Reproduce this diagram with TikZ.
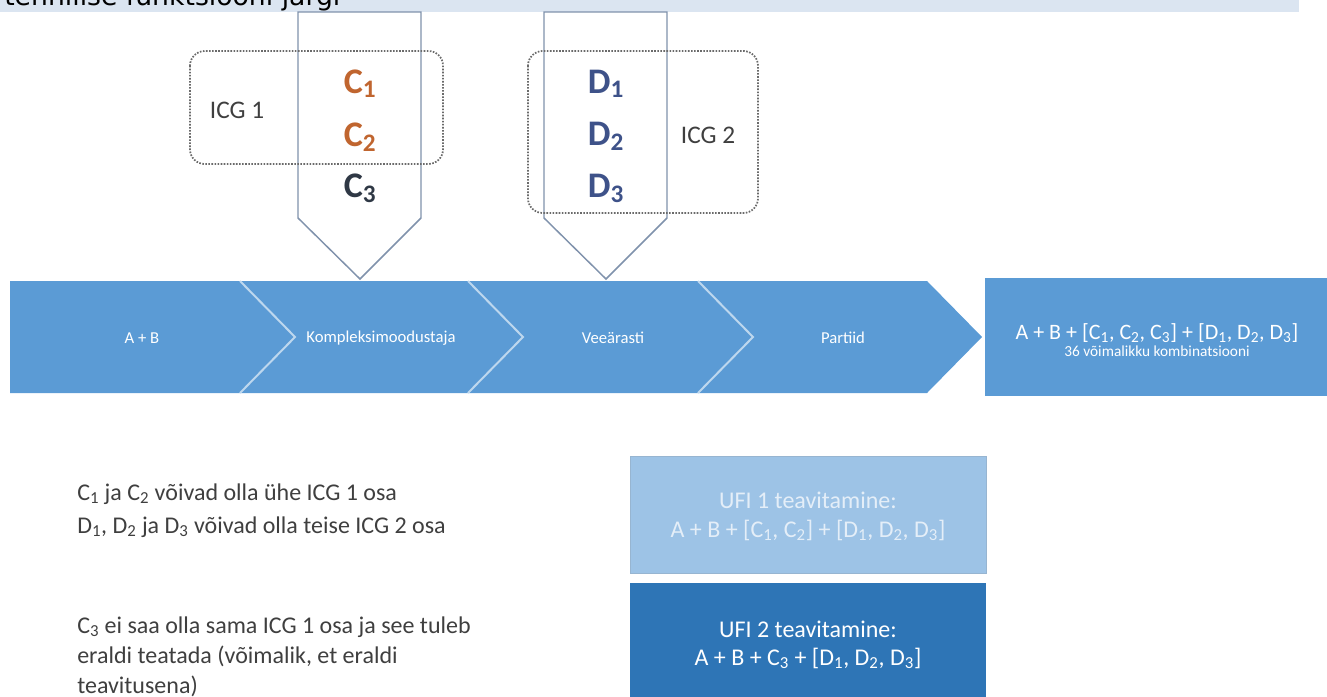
\documentclass[tikz,border=0pt]{standalone}
\usepackage{fontspec}
\setmainfont{Carlito}
\newfontfamily\bannerfont{DejaVu Sans}

\definecolor{bannerbg}{HTML}{DBE5F1}
\definecolor{barblue}{HTML}{5B9BD5}
\definecolor{sepblue}{HTML}{BDD7EE}
\definecolor{ufilight}{HTML}{9DC3E6}
\definecolor{ufidark}{HTML}{2E75B6}
\definecolor{ufilighttext}{HTML}{E4EEF8}
\definecolor{arrowedge}{HTML}{8092AC}
\definecolor{corange}{HTML}{C0652F}
\definecolor{cdark}{HTML}{2F3845}
\definecolor{dblue}{HTML}{3E5289}
\definecolor{labelgray}{HTML}{3F3F3F}
\definecolor{framegray}{HTML}{6A6A6A}

\tikzset{
  droparrow/.style={draw=arrowedge, fill=white, line width=1.1pt, line join=miter},
  icgframe/.style={draw=framegray, line width=1.3pt, dash pattern=on 1.2pt off 1.1pt, rounded corners=11pt},
  bigletter/.style={font=\fontsize{27}{30}\selectfont\bfseries, inner sep=0pt, anchor=base},
  icglabel/.style={font=\fontsize{19}{22}\selectfont, text=labelgray, inner sep=0pt},
  segtext/.style={font=\fontsize{12.5}{15}\selectfont, text=white, inner sep=0pt},
  sepline/.style={draw=sepblue, line width=1.5pt},
  notetext/.style={font=\fontsize{18}{21}\selectfont, text=labelgray, inner sep=0pt, anchor=base west},
  ufitext/.style={font=\fontsize{18}{21}\selectfont, inner sep=0pt, anchor=base},
}

\begin{document}
\begin{tikzpicture}[x=0.75pt, y=-0.75pt]
\useasboundingbox (0,0) rectangle (1327,696);

% title strip, cut off at the top edge
\begin{scope}
  \clip (0,0) rectangle (1327,696);
  \fill[bannerbg] (0,0) rectangle (1299,12);
  \node[anchor=base west, inner sep=0pt, font=\bannerfont\fontsize{20}{24}\selectfont, text=black] (title) at (4,6) {tehnilise funktsiooni järgi};
\end{scope}

% downward pointers feeding into the process
\draw[droparrow] (298,12) -- (421,12) -- (421,218) -- (360,279) -- (298,218) -- cycle;
\draw[droparrow] (544,12) -- (667,12) -- (667,218) -- (606,279) -- (544,218) -- cycle;

% components
\node[bigletter, text=corange] (c1) at (360,93) {C\textsubscript{1}};
\node[bigletter, text=corange] (c2) at (360,146) {C\textsubscript{2}};
\node[bigletter, text=cdark]   (c3) at (360,197) {C\textsubscript{3}};
\node[bigletter, text=dblue] (d1) at (606,93) {D\textsubscript{1}};
\node[bigletter, text=dblue] (d2) at (606,145) {D\textsubscript{2}};
\node[bigletter, text=dblue] (d3) at (606,197) {D\textsubscript{3}};

% interchangeable component groups
\draw[icgframe] (190,51) rectangle (443,164);
\draw[icgframe] (528,51) rectangle (758,213);
\node[icglabel] (icg1) at (237,110) {ICG 1};
\node[icglabel] (icg2) at (708,135) {ICG 2};

% chevron process bar
\fill[barblue] (10,281) -- (240,281) -- (295,337) -- (240,393) -- (10,393) -- cycle;
\fill[barblue] (240,281) -- (468,281) -- (523,337) -- (468,393) -- (240,393) -- (295,337) -- cycle;
\fill[barblue] (468,281) -- (698,281) -- (753,337) -- (698,393) -- (468,393) -- (523,337) -- cycle;
\fill[barblue] (698,281) -- (927,281) -- (982,337) -- (927,393) -- (698,393) -- (753,337) -- cycle;
\draw[sepline] (240,281) -- (295,337) -- (240,393);
\draw[sepline] (468,281) -- (523,337) -- (468,393);
\draw[sepline] (698,281) -- (753,337) -- (698,393);

\node[segtext] (s1) at (142,338) {A + B};
\node[segtext] (s2) at (381,338) {Kompleksimoodustaja};
\node[segtext] (s3) at (613,338) {Veeärasti};
\node[segtext] (s4) at (843,338) {Partiid};

% result box
\fill[barblue] (985,278) rectangle (1327,396);
\node[ufitext, text=white, font=\fontsize{16.5}{19}\selectfont] (res) at (1157,339)
  {A + B + [C\textsubscript{1}, C\textsubscript{2}, C\textsubscript{3}] + [D\textsubscript{1}, D\textsubscript{2}, D\textsubscript{3}]};
\node[ufitext, text=white, font=\fontsize{11.5}{13}\selectfont] (resnote) at (1157,356) {36 võimalikku kombinatsiooni};

% explanations
\node[notetext] (n1) at (77,500) {C\textsubscript{1} ja C\textsubscript{2} võivad olla ühe ICG 1 osa};
\node[notetext] (n2) at (77,533) {D\textsubscript{1}, D\textsubscript{2} ja D\textsubscript{3} võivad olla teise ICG 2 osa};
\node[notetext] (n3) at (77,633) {C\textsubscript{3} ei saa olla sama ICG 1 osa ja see tuleb};
\node[notetext] (n4) at (77,663) {eraldi teatada (võimalik, et eraldi};
\node[notetext] (n5) at (77,693) {teavitusena)};

% submissions
\begin{scope}
  \clip (0,0) rectangle (1327,696);
  \draw[fill=ufilight, draw=ufilight!80!gray, line width=0.6pt] (630,456) rectangle (986,573);
  \fill[ufidark] (630,583) rectangle (986,700);
\end{scope}
\node[ufitext, text=ufilighttext] (u1a) at (808,508) {UFI 1 teavitamine:};
\node[ufitext, text=ufilighttext] (u1b) at (808,537)
  {A + B + [C\textsubscript{1}, C\textsubscript{2}] + [D\textsubscript{1}, D\textsubscript{2}, D\textsubscript{3}]};
\node[ufitext, text=white] (u2a) at (808,637) {UFI 2 teavitamine:};
\node[ufitext, text=white] (u2b) at (808,665)
  {A + B + C\textsubscript{3} + [D\textsubscript{1}, D\textsubscript{2}, D\textsubscript{3}]};
\end{tikzpicture}
\end{document}
